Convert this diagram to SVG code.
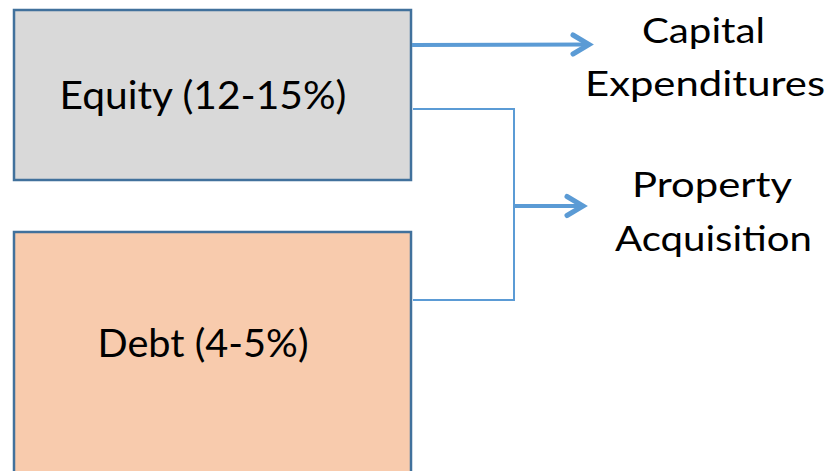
<svg xmlns="http://www.w3.org/2000/svg" width="829" height="471" viewBox="0 0 829 471">
<defs>
<style>
.box{stroke:#41719c;stroke-width:2.5}
.t{font-family:Lato,"Open Sans","Liberation Sans",sans-serif;font-size:38px;fill:#000;text-anchor:middle}
.r{font-size:34px}
.c{fill:none;stroke:#5b9bd5;stroke-linejoin:miter}
</style>
</defs>
<rect width="829" height="471" fill="#fff"/>
<g id="equity">
<rect class="box" x="14" y="10" width="397" height="170" fill="#d9d9d9"/>
<text class="t" x="203" y="109" textLength="287" lengthAdjust="spacingAndGlyphs">Equity (12-15%)</text>
</g>
<g id="debt">
<rect class="box" x="14" y="232" width="397" height="260" fill="#f8cbad"/>
<text class="t" x="203" y="357" textLength="211" lengthAdjust="spacingAndGlyphs">Debt (4-5%)</text>
</g>
<g id="capex">
<text class="t r" x="703.5" y="43" textLength="123" lengthAdjust="spacingAndGlyphs">Capital</text>
<text class="t r" x="705" y="96" textLength="240" lengthAdjust="spacingAndGlyphs">Expenditures</text>
</g>
<g id="property">
<text class="t r" x="712" y="197" textLength="160" lengthAdjust="spacingAndGlyphs">Property</text>
<text class="t r" x="713.5" y="251" textLength="197" lengthAdjust="spacingAndGlyphs">Acquisition</text>
</g>
<g id="connectors">
<line class="c" x1="412" y1="45" x2="588" y2="44.5" stroke-width="4"/>
<path class="c" d="M573,35 L589,44.5 L573,54" stroke-width="5" stroke-linecap="round" stroke-linejoin="round"/>
<path class="c" d="M413,109 H514 V300 H413" stroke-width="2"/>
<line class="c" x1="514" y1="206" x2="581" y2="206" stroke-width="4"/>
<path class="c" d="M567,196.5 L583,206 L567,215.5" stroke-width="5" stroke-linecap="round" stroke-linejoin="round"/>
</g>
</svg>
